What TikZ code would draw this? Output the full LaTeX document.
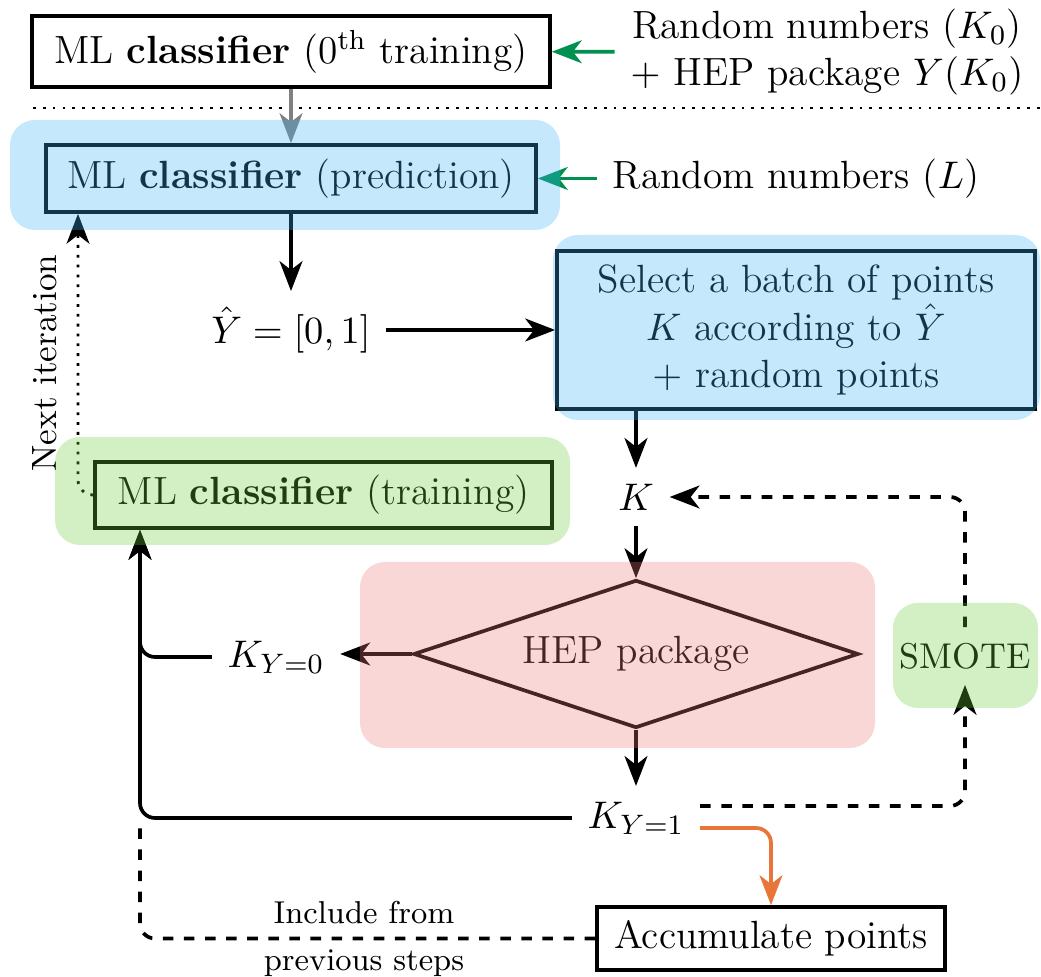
\documentclass[tikz,border=0pt]{standalone}
\usepackage{amsmath,amssymb}
\usetikzlibrary{arrows.meta,shapes.geometric,calc}
\definecolor{bgblue}{RGB}{62,178,245}
\definecolor{bggreen}{RGB}{105,205,55}
\definecolor{bgred}{RGB}{238,122,122}
\definecolor{arrgreen}{RGB}{0,145,80}
\definecolor{arrorange}{RGB}{232,118,58}

\begin{document}
\begin{tikzpicture}[>={Stealth[length=8.5pt,width=6.5pt,inset=2.5pt]}, line width=1.05pt,
    font=\fontsize{11.2}{13.4}\selectfont,
    box/.style={draw, inner xsep=0.1cm, inner ysep=0pt, minimum height=0.67cm},
    lbl/.style={inner sep=4pt},
    panel/.style={fill=#1, fill opacity=0.3, rounded corners=0.25cm}]
    \useasboundingbox (0,0) rectangle (10.41,-9.77);

    % initial training
    \node[box, minimum width=5.18cm, minimum height=0.71cm] (train0) at (2.91,-0.515) {ML \textbf{classifier} (0\textsuperscript{th} training)};
    \node[lbl, align=center] (rn0) at (8.27,-0.52) {Random numbers ($K_0$)\\$+$ HEP package $Y(K_0)$};
    \draw[->, arrgreen] (rn0) -- (train0);
    \draw[dotted, line width=0.8pt] (0.33,-1.08) -- (10.41,-1.08);

    % prediction
    \node[box, minimum width=4.90cm] (pred) at (2.91,-1.785) {ML \textbf{classifier} (prediction)};
    \node[lbl] (rnL) at (7.96,-1.785) {Random numbers ($L$)};
    \draw[->, gray] (train0) -- (pred);
    \draw[->, arrgreen] (rnL) -- (pred);

    % prediction -> Y hat -> selection
    \node[lbl] (yhat) at (2.91,-3.30) {$\hat{Y}=[0,1]$};
    \node[box, minimum width=4.78cm, minimum height=1.58cm, align=center] (sel) at (7.96,-3.30) {Select a batch of points\\$K$ according to $\hat{Y}$\\$+$ random points};
    \draw[->] (pred) -- (yhat);
    \draw[->] (yhat) -- (sel);
    \node[lbl] (K) at (6.36,-4.97) {$K$};
    \draw[->] (K |- sel.south) -- (K);

    % training and next iteration
    \node[box, minimum width=4.57cm, minimum height=0.66cm] (train) at (3.235,-4.95) {ML \textbf{classifier} (training)};
    \coordinate (itx) at (0.78,0);
    \draw[dotted, line width=0.8pt, ->, rounded corners=0.15cm] (train.west) -| (itx |- pred.south);
    \node[rotate=90, font=\fontsize{10}{12}\selectfont] (nxt) at (0.45,-3.63) {Next iteration};

    % HEP package
    \node[diamond, draw, aspect=3, inner sep=0pt, minimum width=4.45cm, minimum height=1.48cm] (hep) at (6.36,-6.54) {HEP package};
    \draw[->] (K) -- (hep);
    \node[lbl] (K0) at (2.76,-6.57) {$K_{Y=0}$};
    \node[lbl] (K1) at (6.36,-8.18) {$K_{Y=1}$};
    \draw[->] (hep.west) -- (hep.west -| K0.east);
    \draw[->] (hep) -- (K1);
    \coordinate (lft) at (1.40,0);
    \draw[->, rounded corners=0.15cm] (K0) -| (lft |- train.south);
    \draw[->, rounded corners=0.15cm] (K1) -| (lft |- train.south);

    % SMOTE loop
    \node[lbl, font=\fontsize{10.2}{12}\selectfont] (smote) at (9.65,-6.56) {SMOTE};
    \draw[->, dashed, rounded corners=0.15cm] ([yshift=0.12cm]K1.east) -| (smote);
    \draw[->, dashed, rounded corners=0.15cm] (smote) |- (K);

    % accumulate points
    \node[box, minimum width=3.48cm, minimum height=0.63cm] (acc) at (7.71,-9.385) {Accumulate points};
    \draw[->, arrorange, rounded corners=0.15cm] ([yshift=-0.10cm]K1.east) -| (acc);
    \draw[dashed, rounded corners=0.15cm] (acc) -| (lft |- K1);
    \node[font=\fontsize{9}{11}\selectfont] (inc1) at (3.64,-9.13) {Include from};
    \node[font=\fontsize{9}{11}\selectfont] (inc2) at (3.64,-9.63) {previous steps};

    % coloured panels
    \fill[panel=bgblue] (0.10,-1.20) rectangle (5.60,-2.30);
    \fill[panel=bgblue] (5.53,-2.35) rectangle (10.40,-4.20);
    \fill[panel=bggreen] (0.55,-4.37) rectangle (5.70,-5.45);
    \fill[panel=bgred] (3.60,-5.62) rectangle (8.75,-7.48);
    \fill[panel=bggreen] (8.93,-6.03) rectangle (10.38,-7.08);
\end{tikzpicture}
\end{document}
